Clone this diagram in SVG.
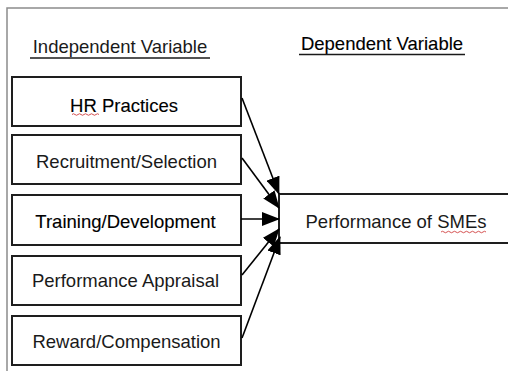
<svg xmlns="http://www.w3.org/2000/svg" width="508" height="371" viewBox="0 0 508 371">
<style>
.box{fill:#fff;stroke:#1e1e1e;stroke-width:2}
.t{font-family:"Liberation Sans",Arial,sans-serif;font-size:18.5px;fill:#1a1a1a;text-anchor:middle}
.dk{fill:#000;stroke:#000;stroke-width:0.12}
.ul{stroke:#1a1a1a;stroke-width:1.3}
.conn{stroke:#000;stroke-width:1.6;fill:none;marker-end:url(#ah)}
.sq{stroke:#d04040;stroke-width:0.9;fill:none}
</style>
<defs>
<marker id="ah" markerUnits="userSpaceOnUse" markerWidth="18" markerHeight="14" viewBox="0 0 18 14" refX="17" refY="7" orient="auto">
<path d="M0,0 L18,7 L0,14 Z" fill="#000"/>
</marker>
</defs>
<rect x="0" y="0" width="508" height="371" fill="#fff"/>
<rect x="7" y="8" width="512" height="372" fill="none" stroke="#8c8c8c" stroke-width="1.5"/>
<g id="label-independent">
<text class="t" x="120" y="53">Independent Variable</text>
<line class="ul" x1="30" y1="58" x2="210" y2="58"/>
</g>
<g id="label-dependent">
<text class="t dk" x="382" y="50">Dependent Variable</text>
<line class="ul" x1="299" y1="54.5" x2="465" y2="54.5"/>
</g>
<g id="hr">
<rect class="box" x="12" y="77" width="229" height="49"/>
<text class="t dk" x="124" y="112">HR Practices</text>
<path class="sq" d="M72,114.5 q1.5,-1.5 3,0 t3,0 t3,0 t3,0 t3,0 t3,0 t3,0 t3,0 t3,0"/>
</g>
<g id="recruitment">
<rect class="box" x="12" y="135" width="229" height="49"/>
<text class="t" x="126.5" y="168">Recruitment/Selection</text>
</g>
<g id="training">
<rect class="box" x="12" y="195" width="229" height="50"/>
<text class="t dk" x="125.5" y="228">Training/Development</text>
</g>
<g id="appraisal">
<rect class="box" x="12" y="256" width="229" height="49"/>
<text class="t" x="125.5" y="287">Performance Appraisal</text>
</g>
<g id="reward">
<rect class="box" x="12" y="316" width="229" height="49"/>
<text class="t" x="126.5" y="348">Reward/Compensation</text>
</g>
<g id="performance">
<rect class="box" x="279" y="194" width="240" height="49"/>
<text class="t" x="396" y="228">Performance of SMEs</text>
<path class="sq" d="M441,232 q1.5,-1.5 3,0 t3,0 t3,0 t3,0 t3,0 t3,0 t3,0 t3,0 t3,0 t3,0 t3,0 t3,0 t3,0 t3,0 t3,0"/>
</g>
<g id="connectors">
<line class="conn" x1="242" y1="98" x2="279" y2="194"/>
<line class="conn" x1="242" y1="158" x2="279" y2="208"/>
<line class="conn" x1="241" y1="219" x2="279" y2="219"/>
<line class="conn" x1="242" y1="275" x2="279" y2="229"/>
<line class="conn" x1="242" y1="338" x2="280" y2="237"/>
</g>
</svg>
